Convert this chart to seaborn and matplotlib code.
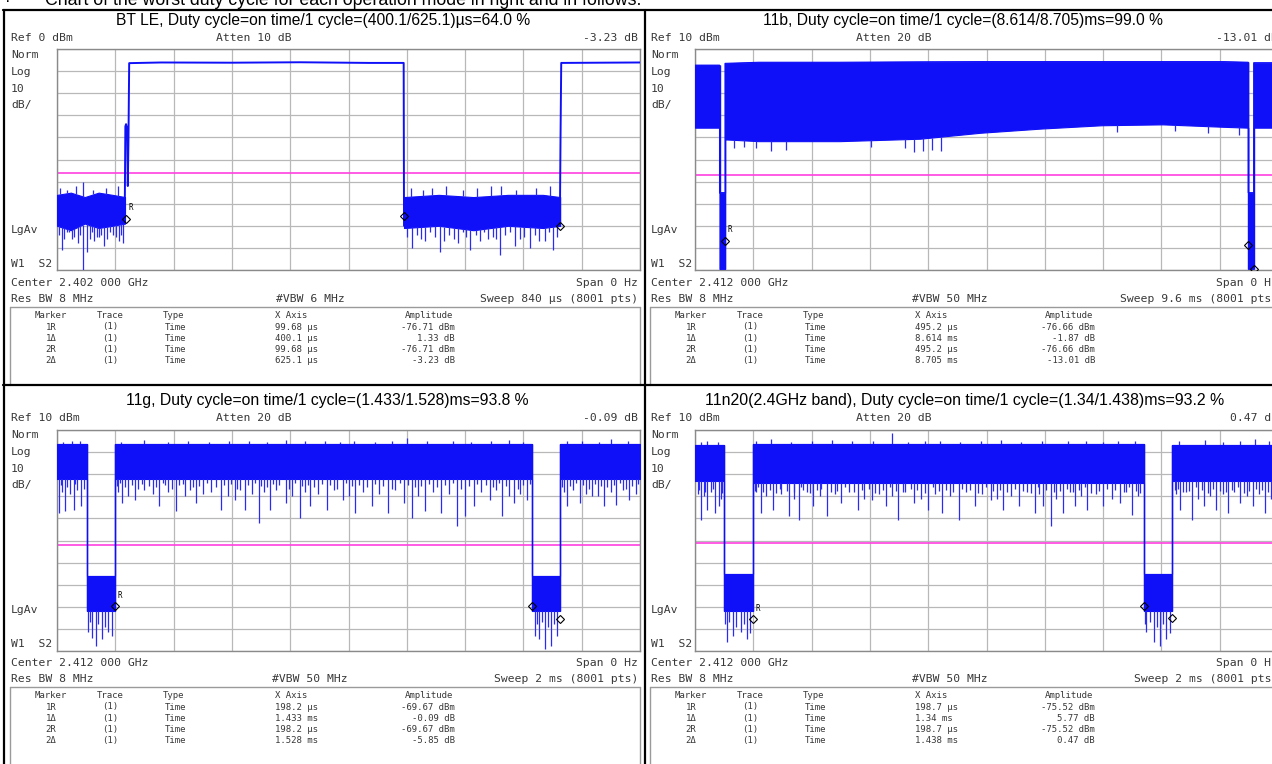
import numpy as np
import matplotlib
matplotlib.use("Agg")
import matplotlib.pyplot as plt
import seaborn as sns
from matplotlib import font_manager

# ------------------------------------------------------------------ data
PAGE_NOTE = "Chart of the worst duty cycle for each operation mode in right and in follows."
TITLES = [
    "BT LE, Duty cycle=on time/1 cycle=(400.1/625.1)\u00b5s=64.0 %",
    "11b, Duty cycle=on time/1 cycle=(8.614/8.705)ms=99.0 %",
    "11g, Duty cycle=on time/1 cycle=(1.433/1.528)ms=93.8 %",
    "11n20(2.4GHz band), Duty cycle=on time/1 cycle=(1.34/1.438)ms=93.2 %",
]
REF_TXT = ["Ref 0 dBm", "Ref 10 dBm", "Ref 10 dBm", "Ref 10 dBm"]
REF_LEVEL = [0, 10, 10, 10]
ATTEN = ["Atten 10 dB", "Atten 20 dB", "Atten 20 dB", "Atten 20 dB"]
READOUT = ["-3.23 dB", "-13.01 dB", "-0.09 dB", "0.47 dB"]
CENTER = ["Center 2.402 000 GHz", "Center 2.412 000 GHz", "Center 2.412 000 GHz", "Center 2.412 000 GHz"]
VBW = ["#VBW 6 MHz", "#VBW 50 MHz", "#VBW 50 MHz", "#VBW 50 MHz"]
SWEEP_TXT = ["Sweep 840 \u00b5s (8001 pts)", "Sweep 9.6 ms (8001 pts)",
             "Sweep 2 ms (8001 pts)", "Sweep 2 ms (8001 pts)"]
SWEEP = [840, 9.6, 2.0, 2.0]          # x extent (us, ms, ms, ms)
DISPLAY_LINE = [-56, -47, -42, -41]   # dBm

TABLE_HEAD = ["Marker", "Trace", "Type", "X Axis", "Amplitude"]
MARKER_NAMES = ["1R", "1\u0394", "2R", "2\u0394"]
MARKER_X = [["99.68 \u00b5s", "400.1 \u00b5s", "99.68 \u00b5s", "625.1 \u00b5s"],
            ["495.2 \u00b5s", "8.614 ms", "495.2 \u00b5s", "8.705 ms"],
            ["198.2 \u00b5s", "1.433 ms", "198.2 \u00b5s", "1.528 ms"],
            ["198.7 \u00b5s", "1.34 ms", "198.7 \u00b5s", "1.438 ms"]]
MARKER_AMP = [["-76.71 dBm", "1.33 dB", "-76.71 dBm", "-3.23 dB"],
              ["-76.66 dBm", "-1.87 dB", "-76.66 dBm", "-13.01 dB"],
              ["-69.67 dBm", "-0.09 dB", "-69.67 dBm", "-5.85 dB"],
              ["-75.52 dBm", "5.77 dB", "-75.52 dBm", "0.47 dB"]]
# marker diamonds: 1R, 1delta, 2delta  (time, dBm)
MK_T = [[99.68, 499.78, 724.78], [0.4952, 9.1092, 9.2002],
        [0.1982, 1.6312, 1.7262], [0.1987, 1.5387, 1.6367]]
MK_DB = [[-76.71, -75.38, -79.94], [-76.66, -78.53, -89.67],
         [-69.67, -69.76, -75.52], [-75.52, -69.75, -75.05]]

# ---- panel A : BT LE (us)
A_NOISE1_T = [0, 20, 40, 60, 80, 98]
A_NOISE1_UP = [-66, -65, -67, -65, -66, -67]
A_NOISE1_LO = [-80, -82, -79, -81, -80, -79]
A_NOISE2_T = [500, 550, 600, 650, 700, 725]
A_NOISE2_UP = [-67, -66, -67, -66, -66, -67]
A_NOISE2_LO = [-81, -80, -82, -80, -81, -80]
A_ON1_T = [97.5, 98.5, 99.5, 101, 102, 103, 104, 150, 250, 350, 450, 499.5, 500]
A_ON1_DB = [-79, -35, -34, -36, -62, -40, -6.4, -6.1, -6.2, -6.0, -6.3, -6.3, -80]
A_ON2_T = [724.5, 725.5, 726.5, 780, 840]
A_ON2_DB = [-80, -40, -6.3, -6.2, -6.1]
A_SPK_T = [7, 14, 21, 37, 43, 57, 67, 81, 95, 512, 530, 552, 578, 595, 621, 638, 660, 681, 703, 715]
A_SPK_DB = [-91, -83, -86, -100, -92, -85, -89, -84, -88, -90, -87, -92, -88, -91, -86, -93, -89, -90, -87, -91]
A_SPK2_T = [3, 10, 17, 25, 30, 33, 47, 50, 53, 61, 64, 72, 76, 85, 89, 92,
            505, 518, 524, 537, 545, 558, 565, 572, 585, 590, 603, 610, 615, 628, 633, 645, 652, 667,
            673, 688, 694, 709, 720]
A_SPK2_DB = [-84, -86, -83, -85, -88, -84, -86, -83, -87, -85, -84, -86, -83, -85, -87, -84,
             -85, -84, -86, -83, -85, -87, -84, -86, -83, -85, -84, -87, -83, -85, -86, -84, -83, -86,
             -85, -84, -87, -83, -85]
A_PK_T = [5, 15, 28, 38, 52, 70, 88, 510, 528, 540, 560, 585, 605, 625, 640, 662, 690, 710]
A_PK_DB = [-63, -64, -62, -60, -64, -63, -62, -63, -64, -63, -62, -64, -63, -62, -62, -64, -63, -62]

# ---- panel B : 11b (ms)
B_T = [0, 0.404, 0.404, 0.495, 0.495, 1.05, 2.38, 3.7, 4.7, 5.7, 6.7, 7.7, 8.7, 9.109, 9.109, 9.2, 9.2, 9.6]
B_UP = [2.7, 2.7, -55, -55, 3.5, 4.0, 4.0, 4.2, 4.3, 4.3, 4.3, 4.3, 4.3, 4.0, -55, -55, 3.8, 3.8]
B_LO = [-25.6, -25.6, -89.5, -89.5, -30.9, -31.7, -31.7, -30.6, -27.9, -26, -24.5, -24.1, -25.2, -25.6,
        -89.5, -89.5, -25.6, -25.6]
B_SPK_T = [0.65, 0.8, 1.0, 1.25, 1.5, 2.9, 3.45, 3.6, 3.75, 3.9, 4.05, 6.95, 7.9, 8.45, 8.95]
B_SPK_DB = [-35, -34.5, -35, -36, -35.5, -34.5, -35, -36.5, -36, -35.5, -36, -27.5, -27, -28, -29]

# ---- panel C : 11g (ms)
C_T = [0, 0.103, 0.103, 0.198, 0.198, 1.631, 1.631, 1.726, 1.726, 2.0]
C_UP = [3.5, 3.5, -56, -56, 3.5, 3.5, -56, -56, 3.5, 3.5]
C_LO = [-12, -12, -72, -72, -12, -12, -72, -72, -12, -12]
C_SPK_T = [0.008, 0.028, 0.057, 0.084, 0.224, 0.267, 0.351, 0.407, 0.477, 0.561, 0.610, 0.645, 0.694,
           0.729, 0.785, 0.834, 0.869, 0.925, 0.981, 1.023, 1.079, 1.135, 1.191, 1.219, 1.261, 1.317,
           1.373, 1.401, 1.429, 1.485, 1.527, 1.569, 1.611, 1.751, 1.793, 1.835, 1.877, 1.919, 1.961]
C_SPK_DB = [-27.5, -26.8, -26, -24.5, -23, -21.5, -24.5, -26.8, -23, -26, -21.5, -26, -32, -26, -23,
            -29.8, -24.5, -26, -21.5, -27.5, -24.5, -27.5, -23, -29.8, -26.8, -27.5, -33.5, -29, -24.5,
            -21.5, -29, -23, -21.5, -24.5, -23, -20, -24.5, -23.8, -21.5]
C_SPK2_T = [0.018, 0.043, 0.070, 0.210, 0.245, 0.300, 0.330, 0.380, 0.440, 0.455, 0.500, 0.530, 0.585,
            0.628, 0.668, 0.710, 0.750, 0.805, 0.850, 0.895, 0.950, 1.000, 1.050, 1.105, 1.160, 1.240,
            1.290, 1.345, 1.455, 1.505, 1.550, 1.590, 1.740, 1.770, 1.815, 1.855, 1.900, 1.940, 1.985]
C_SPK2_DB = [-18, -19, -17, -18, -20, -17, -19, -18, -20, -17, -19, -18, -20, -17, -19, -18, -17, -20,
             -18, -19, -17, -20, -18, -19, -17, -20, -18, -19, -18, -17, -20, -19, -18, -17, -19, -20,
             -18, -17, -19]
C_SPK3_T = [0.013, 0.036, 0.063, 0.092, 0.205, 0.217, 0.233, 0.256, 0.278, 0.290,
            0.315, 0.340, 0.362, 0.372, 0.395, 0.420, 0.432, 0.466, 0.488, 0.515,
            0.545, 0.572, 0.598, 0.618, 0.655, 0.680, 0.700, 0.720, 0.740, 0.762,
            0.795, 0.815, 0.842, 0.860, 0.880, 0.910, 0.938, 0.962, 0.990, 1.012,
            1.035, 1.062, 1.090, 1.118, 1.148, 1.175, 1.205, 1.228, 1.250, 1.275,
            1.305, 1.330, 1.358, 1.385, 1.415, 1.442, 1.470, 1.497, 1.515, 1.540,
            1.580, 1.600, 1.622, 1.733, 1.760, 1.782, 1.805, 1.825, 1.845, 1.866,
            1.888, 1.910, 1.930, 1.952, 1.972, 1.993]
C_SPK3_DB = [-15, -16, -14.5, -16.5, -15.5, -14, -16, -15, -16.5, -14.5,
             -15.5, -16, -14, -15, -16.5, -15, -14.5, -16, -15.5, -14,
             -16, -15, -14.5, -16.5, -15, -14, -15.5, -16, -14.5, -15,
             -16.5, -14, -15.5, -15, -16, -14.5, -15, -16.5, -14, -15.5,
             -15, -16, -14.5, -15.5, -16.5, -14, -15, -16, -15.5, -14.5,
             -16, -15, -14, -16.5, -15.5, -14.5, -15, -16, -14, -15.5,
             -16.5, -15, -14.5, -16, -15.5, -14, -15, -16.5, -14.5, -15.5,
             -16, -15, -14, -16.5, -15.5, -14.5]
C_LOW_SPK_T = [0.106, 0.113, 0.120, 0.133, 0.142, 0.154, 0.165, 0.175, 0.190,
               1.640, 1.647, 1.653, 1.663, 1.674, 1.685, 1.695, 1.705, 1.716]
C_LOW_SPK_DB = [-81.6, -77, -84, -87.6, -78, -84.6, -79, -81.6, -83,
                -83, -78, -84.6, -77, -89, -79, -87.6, -78, -83]
C_PK_T = [0.02, 0.05, 0.08, 0.22, 0.30, 0.38, 0.45, 0.52, 0.59, 0.66, 0.72, 0.785, 0.85, 0.92, 0.97,
          1.02, 1.09, 1.15, 1.20, 1.27, 1.36, 1.42, 1.49, 1.55, 1.60, 1.75, 1.80, 1.86, 1.90, 1.96]
C_PK_DB = [4.5, 5, 4.8, 4.6, 5.5, 4.7, 5.2, 4.6, 5, 4.8, 4.6, 5.5, 4.8, 5.1, 4.6,
           5, 4.7, 5.2, 6.4, 4.8, 5, 4.6, 5.1, 5.5, 4.7, 4.9, 5.2, 4.6, 5.8, 5]

# ---- panel D : 11n20 (ms)
D_T = [0, 0.1007, 0.1007, 0.1987, 0.1987, 1.5387, 1.5387, 1.6367, 1.6367, 2.0]
D_UP = [3.0, 3.0, -55, -55, 3.5, 3.5, -55, -55, 3.0, 3.0]
D_LO = [-13, -13, -72, -72, -14, -14, -72, -72, -13, -13]
D_SPK_T = [0.019, 0.040, 0.067, 0.081, 0.226, 0.267, 0.323, 0.357, 0.406, 0.454, 0.502, 0.558, 0.606,
           0.655, 0.696, 0.751, 0.800, 0.848, 0.904, 0.959, 1.014, 1.056, 1.111, 1.166, 1.194, 1.222,
           1.263, 1.305, 1.346, 1.401, 1.457, 1.498, 1.664, 1.705, 1.747, 1.788, 1.830, 1.871, 1.913, 1.954]
D_SPK_DB = [-30.5, -26, -27.5, -24.5, -27.5, -26, -29, -30.5, -24.5, -29, -23, -26, -21.5, -24.5, -30.5,
            -23, -26, -27.5, -30.5, -24.5, -21.5, -26, -24.5, -27.5, -24.5, -33.5, -27.5, -24.5, -26,
            -24.5, -23, -28.3, -26, -30.5, -24.5, -26, -27.5, -23, -24.5, -27.5]
D_SPK2_T = [0.010, 0.030, 0.055, 0.090, 0.210, 0.245, 0.295, 0.340, 0.385, 0.430, 0.480, 0.530, 0.580,
            0.630, 0.675, 0.720, 0.775, 0.825, 0.875, 0.930, 0.985, 1.035, 1.085, 1.140, 1.180, 1.240,
            1.285, 1.325, 1.375, 1.430, 1.480, 1.520, 1.650, 1.685, 1.725, 1.768, 1.810, 1.850, 1.892,
            1.935, 1.975]
D_SPK2_DB = [-19, -20, -18, -21, -18, -20, -19, -21, -18, -20, -19, -18, -21, -19, -20, -18, -21, -19,
             -20, -18, -19, -21, -20, -18, -19, -21, -18, -20, -19, -21, -18, -20, -19, -18, -21, -20,
             -19, -18, -20, -19, -21]
D_SPK3_T = [0.013, 0.036, 0.063, 0.092, 0.205, 0.217, 0.233, 0.256, 0.278, 0.290,
            0.315, 0.340, 0.362, 0.372, 0.395, 0.420, 0.432, 0.466, 0.488, 0.515,
            0.545, 0.572, 0.598, 0.618, 0.645, 0.668, 0.688, 0.712, 0.740, 0.762,
            0.790, 0.815, 0.838, 0.860, 0.885, 0.915, 0.942, 0.972, 0.998, 1.022,
            1.045, 1.070, 1.098, 1.125, 1.152, 1.175, 1.205, 1.232, 1.252, 1.275,
            1.298, 1.318, 1.338, 1.360, 1.385, 1.412, 1.440, 1.470, 1.488, 1.512,
            1.528, 1.645, 1.658, 1.675, 1.695, 1.718, 1.738, 1.760, 1.778, 1.800,
            1.820, 1.842, 1.862, 1.882, 1.902, 1.925, 1.945, 1.965, 1.985]
D_SPK3_DB = [-17, -18, -16.5, -18.5, -17.5, -16, -18, -17, -18.5, -16.5,
             -17.5, -18, -16, -17, -18.5, -17, -16.5, -18, -17.5, -16,
             -18, -17, -16.5, -18.5, -17, -16, -17.5, -18, -16.5, -17,
             -18.5, -16, -17.5, -17, -18, -16.5, -17, -18.5, -16, -17.5,
             -17, -18, -16.5, -17.5, -18.5, -16, -17, -18, -17.5, -16.5,
             -18, -17, -16, -18.5, -17.5, -16.5, -17, -18, -16, -17.5,
             -18.5, -17, -16.5, -18, -17.5, -16, -17, -18.5, -16.5, -17.5,
             -18, -17, -16, -18.5, -17.5, -16.5, -17, -18, -16.5]
D_LOW_SPK_T = [0.104, 0.109, 0.118, 0.130, 0.142, 0.157, 0.168, 0.177, 0.190,
               1.543, 1.546, 1.560, 1.574, 1.584, 1.594, 1.605, 1.616, 1.628]
D_LOW_SPK_DB = [-78, -86, -77, -83, -79, -81.6, -78, -84.6, -82,
                -78, -81.6, -77, -86, -79, -87.6, -78, -84.6, -82]
D_PK_T = [0.02, 0.04, 0.08, 0.21, 0.26, 0.33, 0.40, 0.47, 0.54, 0.61, 0.675, 0.73, 0.79, 0.84, 0.91,
          0.98, 1.05, 1.12, 1.19, 1.28, 1.34, 1.40, 1.45, 1.51, 1.66, 1.75, 1.81, 1.87, 1.92, 1.97]
D_PK_DB = [4.5, 5, 4.6, 4.8, 6, 4.7, 5.2, 5.5, 4.8, 5, 8.5, 4.7, 5.1, 5, 4.6,
           4.9, 5.5, 4.7, 5.2, 5, 4.8, 4.6, 5.2, 4.9, 4.8, 5.5, 4.7, 5.1, 6, 4.8]

# ------------------------------------------------------------------ style / layout
sns.set_style("white")
plt.rcParams["font.family"] = ["DejaVu Sans"]
names = {f.name for f in font_manager.fontManager.ttflist}
TITLE_FONT = "Liberation Sans Narrow" if "Liberation Sans Narrow" in names else "Liberation Sans"
MONO = "DejaVu Sans Mono"

W, H = 1272, 764
BLUE = "#1010f8"
SPIKE = "#2a2af8"
INSTR = "#383838"
fig = plt.figure(figsize=(W / 100, H / 100), dpi=100)
fig.patch.set_facecolor("white")
over = fig.add_axes([0, 0, 1, 1], zorder=0)
over.set_xlim(0, W)
over.set_ylim(H, 0)
over.axis("off")


def rect(x0, y0, x1, y1):
    return [x0 / W, 1 - y1 / H, (x1 - x0) / W, (y1 - y0) / H]


PANEL_ORIGIN = [(0, 0), (640, 0), (0, 380), (640, 380)]
GRID_LEFT = [57, 695, 57, 695]
GRID_TOP = [49, 49, 430, 430]
GRID_W, GRID_H = 583, 221

renderer = fig.canvas.get_renderer()


def fit_text(x, y, s, target_w, size0, **kw):
    t = over.text(x, y, s, fontsize=size0, **kw)
    w = t.get_window_extent(renderer).width
    t.set_fontsize(size0 * target_w / w)
    return t


# page note (cut at the top edge, as in the source page)
over.text(5, 1, "\u00b7", fontsize=12, family=TITLE_FONT, va="center", ha="left", color="black")
fit_text(45, 0.5, PAGE_NOTE, 597, 11, family=TITLE_FONT, va="center", ha="left", color="black")

TITLE_CX = [323, 963, 327, 965]
TITLE_W = [415, 400, 404, 520]
TITLE_Y = [20, 20, 401, 401]


def instr(x, y, s, ha="left", size=8.2, color=INSTR):
    over.text(x, y, s, fontsize=size, family=MONO, ha=ha, va="center", color=color)


PANELS = [
    dict(kind="bt"),
    dict(kind="band", T=B_T, UP=B_UP, LO=B_LO, SPK=[(B_SPK_T, B_SPK_DB)], PK=([], [])),
    dict(kind="band", T=C_T, UP=C_UP, LO=C_LO,
         SPK=[(C_SPK3_T, C_SPK3_DB), (C_SPK2_T, C_SPK2_DB), (C_SPK_T, C_SPK_DB), (C_LOW_SPK_T, C_LOW_SPK_DB)],
         PK=(C_PK_T, C_PK_DB)),
    dict(kind="band", T=D_T, UP=D_UP, LO=D_LO,
         SPK=[(D_SPK3_T, D_SPK3_DB), (D_SPK2_T, D_SPK2_DB), (D_SPK_T, D_SPK_DB), (D_LOW_SPK_T, D_LOW_SPK_DB)],
         PK=(D_PK_T, D_PK_DB)),
]

for i in range(4):
    ox, oy = PANEL_ORIGIN[i]
    ref = REF_LEVEL[i]
    span = SWEEP[i]
    # ---- title
    fit_text(TITLE_CX[i], TITLE_Y[i], TITLES[i], TITLE_W[i], 12, family=TITLE_FONT,
             ha="center", va="center", color="black")
    # ---- instrument annotations
    instr(ox + 11, oy + 38, REF_TXT[i])
    instr(ox + 216, oy + 38, ATTEN[i])
    instr(ox + 638, oy + 38, READOUT[i], ha="right")
    for lab, yy in zip(["Norm", "Log", "10", "dB/"], [55, 72, 89, 105]):
        instr(ox + 11, oy + yy, lab)
    instr(ox + 11, oy + 230, "LgAv")
    instr(ox + 11, oy + 264, "W1  S2")
    instr(ox + 11, oy + 283, CENTER[i])
    instr(ox + 638, oy + 283, "Span 0 Hz", ha="right")
    instr(ox + 11, oy + 299, "Res BW 8 MHz")
    instr(ox + 310, oy + 299, VBW[i], ha="center")
    instr(ox + 638, oy + 299, SWEEP_TXT[i], ha="right")
    # table box
    bx0, bx1, by0 = ox + 10, ox + 640, oy + 307
    over.plot([bx0, bx1], [by0, by0], color="#9a9a9a", lw=1.0)
    over.plot([bx0, bx0], [by0, oy + 385], color="#9a9a9a", lw=1.0)
    over.plot([bx1, bx1], [by0, oy + 385], color="#9a9a9a", lw=1.0)
    ts = 6.5
    instr(ox + 51, oy + 315, TABLE_HEAD[0], ha="center", size=ts)
    instr(ox + 110, oy + 315, TABLE_HEAD[1], ha="center", size=ts)
    instr(ox + 163, oy + 315, TABLE_HEAD[2], size=ts)
    instr(ox + 275, oy + 315, TABLE_HEAD[3], size=ts)
    instr(ox + 453, oy + 315, TABLE_HEAD[4], ha="right", size=ts)
    for r in range(4):
        yy = oy + 327 + r * 11.3
        instr(ox + 51, yy, MARKER_NAMES[r], ha="center", size=ts)
        instr(ox + 110, yy, "(1)", ha="center", size=ts)
        instr(ox + 165, yy, "Time", size=ts)
        instr(ox + 275, yy, MARKER_X[i][r], size=ts)
        instr(ox + 455, yy, MARKER_AMP[i][r], ha="right", size=ts)

    # ---- trace axes
    gx, gy = GRID_LEFT[i], GRID_TOP[i]
    ax = fig.add_axes(rect(gx, gy, gx + GRID_W, gy + GRID_H), zorder=2)
    ax.set_xlim(0, span)
    ax.set_ylim(ref - 100, ref)
    ax.set_xticks(np.linspace(0, span, 11))
    ax.set_yticks(np.linspace(ref - 100, ref, 11))
    ax.tick_params(length=0, labelbottom=False, labelleft=False)
    ax.grid(True, color="#b8b8b8", lw=0.9)
    ax.set_axisbelow(True)
    for sp in ax.spines.values():
        sp.set_color("#8a8a8a")
        sp.set_linewidth(1.0)
    ax.axhline(DISPLAY_LINE[i], color="#ff40e0", lw=1.2, zorder=1)

    p = PANELS[i]
    if p["kind"] == "bt":
        allT = A_NOISE1_T + A_NOISE2_T
        for T, UP, LO in [(A_NOISE1_T, A_NOISE1_UP, A_NOISE1_LO), (A_NOISE2_T, A_NOISE2_UP, A_NOISE2_LO)]:
            ax.fill_between(T, LO, UP, color=BLUE, lw=0.8, zorder=3)
        for st, sd in [(A_SPK2_T, A_SPK2_DB), (A_SPK_T, A_SPK_DB)]:
            base = np.interp(st, allT, A_NOISE1_LO + A_NOISE2_LO)
            ax.vlines(st, base, sd, color=SPIKE, lw=0.9, zorder=3)
        base = np.interp(A_PK_T, allT, A_NOISE1_UP + A_NOISE2_UP)
        ax.vlines(A_PK_T, base, A_PK_DB, color=SPIKE, lw=0.9, zorder=3)
        sns.lineplot(x=A_ON1_T, y=A_ON1_DB, ax=ax, color=BLUE, lw=1.4, estimator=None, sort=False, zorder=4)
        sns.lineplot(x=A_ON2_T, y=A_ON2_DB, ax=ax, color=BLUE, lw=1.4, estimator=None, sort=False, zorder=4)
    else:
        T, UP, LO = p["T"], p["UP"], p["LO"]
        ax.fill_between(T, LO, UP, color=BLUE, lw=0.8, zorder=3)
        sns.lineplot(x=T, y=UP, ax=ax, color=BLUE, lw=0.8, estimator=None, sort=False, zorder=4)
        for k in range(len(T) - 1):
            if T[k] == T[k + 1]:
                ax.vlines(T[k], min(LO[k], LO[k + 1]), max(UP[k], UP[k + 1]), color=BLUE, lw=1.0, zorder=3)
        for st, sd in p["SPK"]:
            base = np.interp(st, T, LO)
            ax.vlines(st, base, sd, color=SPIKE, lw=0.9, zorder=3)
        pt, pd_ = p["PK"]
        if len(pt):
            base = np.interp(pt, T, UP)
            ax.vlines(pt, base, pd_, color=SPIKE, lw=0.9, zorder=3)
    ax.set_xlabel("")
    ax.set_ylabel("")
    # markers
    ax.plot(MK_T[i], MK_DB[i], ls="none", marker="D", ms=4.5, mfc="none", mec="black", mew=0.8, zorder=6)
    ax.annotate("R", (MK_T[i][0], MK_DB[i][0]), xytext=(2, 6), textcoords="offset points",
                fontsize=5.5, family=MONO, color="black", zorder=6)

# ---- cell frame lines
K = "black"
lw = 1.6
over.plot([3, W], [10, 10], color=K, lw=lw)
over.plot([4, 4], [10, H], color=K, lw=lw)
over.plot([645, 645], [10, H], color=K, lw=lw)
over.plot([3, W], [385, 385], color=K, lw=lw)

fig.savefig("out.png", dpi=100, facecolor="white")
